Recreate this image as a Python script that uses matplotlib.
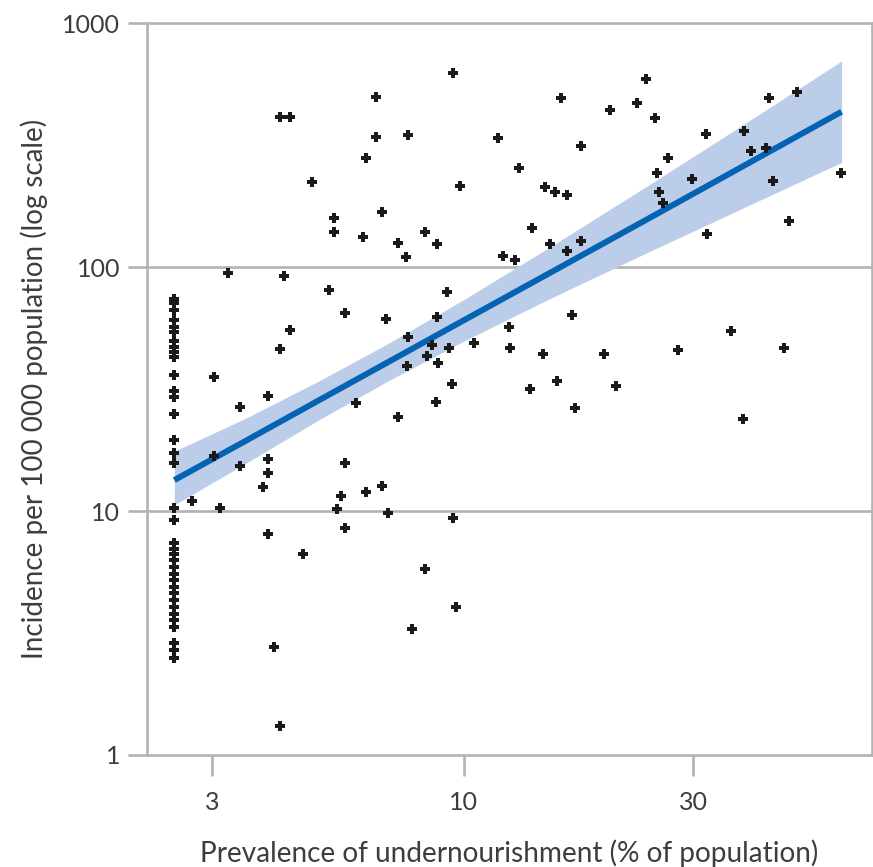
import numpy as np
import matplotlib
matplotlib.use('Agg')
import matplotlib.pyplot as plt

# Countries reported as "<2.5" undernourishment sit on one column
low_prev_incidence = [74, 71, 67, 61, 57, 54, 50, 47, 45, 43, 36, 31, 29.4, 25,
                      19.5, 17.3, 15.7, 10.3, 9.2, 7.4, 7.0, 6.7, 6.3, 5.9, 5.5,
                      5.2, 4.9, 4.6, 4.3, 4.05, 3.8, 3.57, 3.36, 2.87, 2.69, 2.49]

# Remaining countries: prevalence (%) and incidence per 100 000
prevalence = [3.02, 3.43, 3.92, 4.35, 4.15, 5.25, 5.67, 6.88, 8.79, 7.67,
              8.58, 8.38, 7.61, 8.83, 8.76, 5.97, 7.28, 3.03, 3.43, 3.92,
              3.92, 3.83, 2.72, 3.11, 5.65, 5.55, 6.26, 6.77, 5.45, 6.97,
              5.67, 3.92, 4.64, 8.31, 7.80, 4.03, 4.15, 9.51, 6.56, 4.15,
              4.35, 6.56, 7.67, 11.75, 6.26, 13.05, 4.84, 9.82, 6.77, 5.36,
              5.36, 6.17, 7.28, 8.31, 8.79, 7.57, 13.85, 12.05, 12.79, 3.23,
              4.23, 9.22, 23.9, 15.94, 22.96, 20.15, 25.0, 43.1, 49.2, 17.5,
              31.8, 38.3, 26.6, 39.5, 42.5, 25.2, 29.8, 44.0, 60.8, 14.75,
              15.5, 16.4, 25.5, 26.0, 47.5, 32.1, 15.1, 17.5, 16.4, 16.8,
              12.4, 9.32, 10.5, 12.5, 14.6, 19.6, 27.9, 35.9, 46.2, 9.44,
              13.7, 15.6, 20.7, 17.0, 38.1, 9.47, 9.61]
incidence = [35.4, 26.8, 29.6, 55.3, 46.2, 80.6, 64.7, 61.1, 62.3, 51.6,
             48.0, 43.3, 39.5, 40.4, 27.9, 27.8, 24.4, 16.8, 15.3, 16.4,
             14.3, 12.6, 11.0, 10.3, 15.7, 11.5, 12.0, 12.7, 10.2, 9.8,
             8.5, 8.05, 6.67, 5.8, 3.28, 2.78, 1.31, 627, 497, 412,
             414, 343, 348, 338, 280, 256, 223, 216, 169, 159,
             140, 133, 126, 140, 125, 110, 145, 111, 107, 94.4,
             92, 78.9, 591, 495, 473, 441, 410, 495, 521, 314,
             351, 362, 281, 300, 309, 244, 229, 226, 243, 214,
             204, 198, 203, 183, 155, 137, 124, 128, 116, 63.7,
             56.7, 46.8, 48.8, 46.8, 44.0, 44.0, 45.8, 54.9, 46.8, 33.1,
             31.6, 34.2, 32.6, 26.4, 23.8, 9.4, 4.06]

# Fitted trend and its confidence band
fit_x = [2.5, 3.5, 5, 7, 10, 15, 25, 40, 61]
fit_y = [13.4, 19.3, 28.5, 41.1, 60.6, 94.1, 164, 274, 434]
band_hi = [17.6, 23.9, 34.2, 49.0, 73.7, 120, 226, 409, 701]
band_lo = [10.6, 15.6, 23.7, 34.4, 49.8, 73.9, 119, 183, 269]

x_ticks = [3, 10, 30]
y_ticks = [1, 10, 100, 1000]

GRAY = '#b3b3b3'
TEXT = '#3d3d3d'
plt.rcParams['font.family'] = ['Lato', 'DejaVu Sans']

x_all = [2.5] * len(low_prev_incidence) + prevalence
y_all = low_prev_incidence + incidence

fig = plt.figure(figsize=(8.73, 8.67), dpi=100)
ax = fig.add_axes([0.168, 0.1292, 0.8303, 0.8439])
ax.set_xscale('log')
ax.set_yscale('log')
ax.set_xlim(2.19, 70.4)
ax.set_ylim(1, 1000)

ax.fill_between(fit_x, band_lo, band_hi, color='#bccde9', lw=0, zorder=2)
ax.plot(fit_x, fit_y, color='#0563b3', lw=4.3, solid_capstyle='butt', zorder=3)
ax.plot(x_all, y_all, 'P', color='#1a1a1a', ms=6.5, mew=0, zorder=4)

for yv in y_ticks[1:-1]:
    ax.axhline(yv, color=GRAY, lw=1.9, zorder=1)
for side in ['left', 'right', 'top', 'bottom']:
    ax.spines[side].set_color(GRAY)
    ax.spines[side].set_linewidth(1.9)

ax.set_xticks(x_ticks)
ax.set_xticklabels([str(v) for v in x_ticks])
ax.set_yticks(y_ticks)
ax.set_yticklabels([str(v) for v in y_ticks])
ax.minorticks_off()
ax.tick_params(axis='x', length=15, width=1.9, color=GRAY, pad=11,
               labelsize=18, labelcolor=TEXT)
ax.tick_params(axis='y', length=14, width=1.9, color=GRAY, pad=5,
               labelsize=18, labelcolor=TEXT)

ax.set_xlabel('Prevalence of undernourishment (% of population)',
              fontsize=20.2, color=TEXT, labelpad=18)
ax.set_ylabel('Incidence per 100 000 population (log scale)',
              fontsize=20, color=TEXT, labelpad=10)

fig.savefig('out.png', dpi=100)
plt.close(fig)
